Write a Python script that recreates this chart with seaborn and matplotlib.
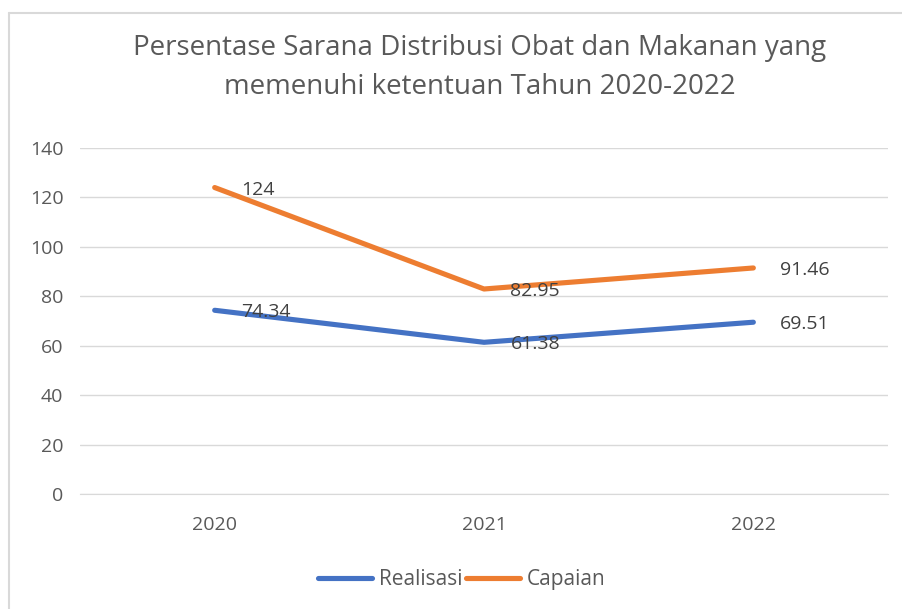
import numpy as np
import pandas as pd
import seaborn as sns
import matplotlib.pyplot as plt
from matplotlib.lines import Line2D

years = ['2020', '2021', '2022']
realisasi = [74.34, 61.38, 69.51]
capaian = [124, 82.95, 91.46]
realisasi_labels = ['74.34', '61.38', '69.51']
capaian_labels = ['124', '82.95', '91.46']

df = pd.DataFrame({
    'Tahun': years * 2,
    'Nilai': realisasi + capaian,
    'Seri': ['Realisasi'] * 3 + ['Capaian'] * 3,
})

sns.set_style("white")
plt.rcParams['font.family'] = ['Open Sans', 'DejaVu Sans']
text_color = '#595959'
palette = {'Realisasi': '#4472C4', 'Capaian': '#ED7D31'}

fig = plt.figure(figsize=(9.02, 6.09), dpi=100)
ax = fig.add_axes([0.0887, 0.1888, 0.8958, 0.5682])

sns.lineplot(data=df, x='Tahun', y='Nilai', hue='Seri', palette=palette,
             linewidth=3.7, ax=ax, sort=False, solid_capstyle='round')

# data labels, placed right of each point like Excel
for vals, labs in [(capaian, capaian_labels), (realisasi, realisasi_labels)]:
    for i, (v, lab) in enumerate(zip(vals, labs)):
        ax.annotate(lab, (i, v), xytext=(19, -1.5), textcoords='offset points',
                    ha='left', va='center', fontsize=14, color='#404040')

ax.set_xlim(-0.5, 2.5)
ax.set_ylim(0, 140)
ax.set_yticks(np.arange(0, 141, 20))
ax.yaxis.grid(True, color='#D9D9D9', linewidth=1)
ax.set_axisbelow(True)
for s in ['top', 'right', 'left']:
    ax.spines[s].set_visible(False)
ax.spines['bottom'].set_color('#D9D9D9')
ax.tick_params(axis='both', length=0, labelsize=14, colors=text_color, pad=12)
ax.tick_params(axis='x', pad=16)
ax.set_xlabel('')
ax.set_ylabel('')

fig.text(0.532, 0.889, 'Persentase Sarana Distribusi Obat dan Makanan yang\nmemenuhi ketentuan Tahun 2020-2022',
         ha='center', va='center', fontsize=20, color=text_color, linespacing=1.55)

handles, labels = ax.get_legend_handles_labels()
ax.legend(handles, labels, loc='center', bbox_to_anchor=(0.512, 0.048), bbox_transform=fig.transFigure,
          ncol=2, frameon=False, fontsize=15, labelcolor=text_color, handlelength=2.6,
          handletextpad=0.3, columnspacing=0.2)

# chart border
fig.add_artist(Line2D([0.0105, 1.0], [0.978, 0.978], color='#D9D9D9', linewidth=1.5))
fig.add_artist(Line2D([0.0105, 0.0105], [0.0, 0.978], color='#D9D9D9', linewidth=1.5))

fig.savefig('out.png', dpi=100)
